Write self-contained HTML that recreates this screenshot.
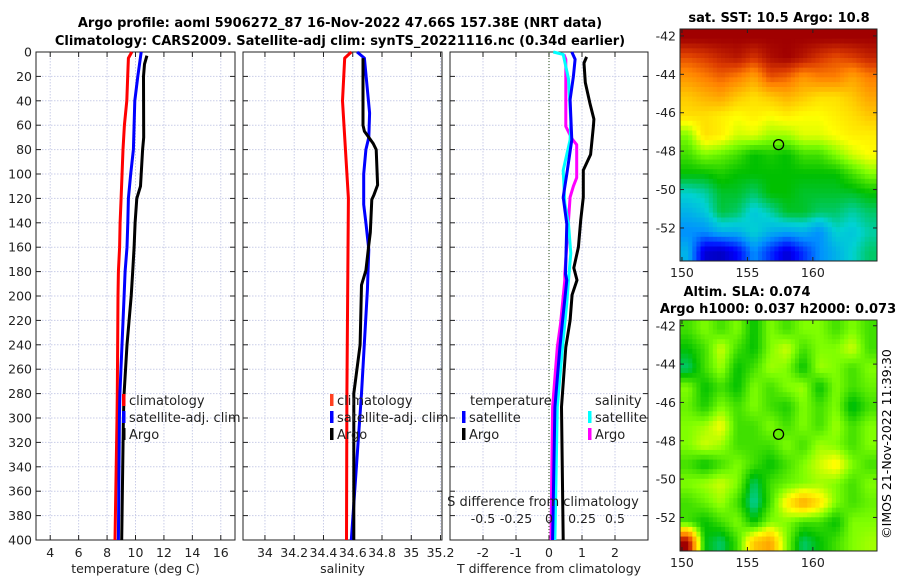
<!DOCTYPE html>
<html><head><meta charset="utf-8"><style>
html,body{margin:0;padding:0;background:#fff;}
svg{display:block;font-family:"DejaVu Sans","Liberation Sans",sans-serif;}
</style></head><body>
<svg id="fig" width="900" height="580" viewBox="0 0 900 580" xmlns="http://www.w3.org/2000/svg">
<text x="340" y="27" font-size="13" font-weight="bold" text-anchor="middle">Argo profile: aoml 5906272_87 16-Nov-2022 47.66S 157.38E (NRT data)</text>
<text x="340" y="45" font-size="13" font-weight="bold" text-anchor="middle">Climatology: CARS2009. Satellite-adj clim: synTS_20221116.nc (0.34d earlier)</text>
<g id="g1"></g>
<g id="g2"></g>
<g id="g3"></g>
<g id="m1"></g>
<g id="m2"></g>
<text x="779" y="22" font-size="13" font-weight="bold" text-anchor="middle">sat. SST: 10.5 Argo: 10.8</text>
<text x="747" y="296" font-size="13" font-weight="bold" text-anchor="middle">Altim. SLA: 0.074</text>
<text x="778" y="313" font-size="13" font-weight="bold" text-anchor="middle">Argo h1000: 0.037 h2000: 0.073</text>
<text transform="translate(891,444) rotate(-90)" font-size="12.5" text-anchor="middle">©IMOS 21-Nov-2022 11:39:30</text>
</svg>
<script>
// ---- data ----
const depthsT = [0,5,20,40,60,80,120,140,160,180,200,280,300,400];
const tempClim = [9.74,9.5,9.45,9.39,9.22,9.12,8.99,8.92,8.88,8.8,8.77,8.72,8.7,8.56];
const depthsTs = [0,20,40,60,80,100,120,140,160,180,200,280,300,400];
const tempSat = [10.4,10.16,9.95,9.9,9.85,9.66,9.5,9.46,9.4,9.27,9.2,8.9,8.87,8.8];
const depthsTa = [3,10,20,70,80,100,110,120,140,160,180,200,240,280,300,400];
const tempArgo = [10.8,10.63,10.56,10.58,10.5,10.4,10.35,10.09,9.97,9.9,9.8,9.7,9.4,9.2,9.15,9.03];

const depthsSc = [0,5,40,120,280,400];
const salClim = [34.59,34.545,34.53,34.57,34.56,34.557];
const depthsSs = [0,5,50,70,80,100,125,140,162,195,280,400];
const salSat = [34.63,34.68,34.715,34.71,34.69,34.675,34.675,34.69,34.71,34.7,34.66,34.59];
const depthsSa = [5,60,65,75,80,109,117,121,148,158,179,191,240,280,400];
const salArgo = [34.67,34.67,34.68,34.74,34.76,34.77,34.745,34.73,34.72,34.71,34.69,34.66,34.65,34.607,34.607];

const dDepthTA = [4,9,25,42,55,60,84,97,119,138,160,177,187,199,220,242,291,400];
const dTempArgo = [1.14,1.06,1.1,1.24,1.36,1.35,1.26,1.04,1.04,0.96,0.89,0.75,0.85,0.7,0.64,0.51,0.38,0.43];
const dDepthTS = [0,6,20,39,72,100,119,141,182,187,223,242,291,400];
const dTempSat = [0.69,0.79,0.74,0.64,0.69,0.54,0.43,0.54,0.5,0.54,0.4,0.33,0.18,0.11];
const dDepthSS = [0,2,22,57,72,97,124,141,165,187,206,242,291,400];
const dSalSat = [0.13,0.43,0.59,0.66,0.64,0.43,0.48,0.59,0.66,0.59,0.54,0.41,0.25,0.18]; // in T-axis units (S*4)
const dDepthSA = [2,6,61,71,76,103,110,119,182,187,223,242,291,400];
const dSalArgo = [0.45,0.51,0.51,0.69,0.84,0.84,0.74,0.64,0.48,0.48,0.35,0.25,0.11,0.06];

const sstGrid = [
[1,1,1,1,1,1,1,1,1,1,1,1],
[0.9,0.92,0.95,0.97,0.93,0.98,1,0.97,0.93,0.9,0.92,0.95],
[0.82,0.85,0.88,0.85,0.8,0.9,0.88,0.82,0.85,0.85,0.8,0.85],
[0.75,0.78,0.8,0.75,0.72,0.75,0.78,0.75,0.72,0.72,0.75,0.8],
[0.72,0.72,0.7,0.68,0.7,0.68,0.7,0.68,0.68,0.7,0.72,0.75],
[0.6,0.72,0.7,0.65,0.66,0.62,0.62,0.66,0.66,0.68,0.7,0.7],
[0.55,0.6,0.58,0.55,0.5,0.52,0.5,0.55,0.55,0.6,0.65,0.68],
[0.5,0.5,0.52,0.5,0.5,0.5,0.5,0.5,0.5,0.5,0.55,0.6],
[0.4,0.42,0.48,0.48,0.45,0.5,0.5,0.48,0.48,0.48,0.48,0.5],
[0.35,0.38,0.47,0.45,0.38,0.42,0.48,0.48,0.45,0.45,0.42,0.45],
[0.3,0.3,0.35,0.35,0.4,0.35,0.33,0.35,0.3,0.4,0.38,0.42],
[0.35,0.1,0.08,0.15,0.3,0.2,0.1,0.2,0.3,0.35,0.4,0.45]];
const slaGrid = [
[0.55,0.6,0.55,0.6,0.5,0.6,0.55,0.6,0.6,0.55,0.6,0.55],
[0.5,0.55,0.65,0.55,0.5,0.6,0.65,0.55,0.6,0.6,0.65,0.55],
[0.45,0.55,0.62,0.5,0.55,0.62,0.6,0.5,0.62,0.6,0.55,0.6],
[0.6,0.5,0.55,0.5,0.6,0.55,0.6,0.62,0.5,0.6,0.55,0.58],
[0.58,0.52,0.6,0.55,0.6,0.55,0.52,0.6,0.55,0.6,0.48,0.55],
[0.6,0.62,0.68,0.55,0.55,0.6,0.55,0.6,0.55,0.62,0.55,0.6],
[0.6,0.65,0.62,0.55,0.55,0.55,0.6,0.55,0.62,0.6,0.55,0.6],
[0.55,0.5,0.55,0.6,0.55,0.5,0.55,0.6,0.65,0.7,0.6,0.55],
[0.6,0.62,0.65,0.6,0.45,0.55,0.58,0.6,0.62,0.6,0.55,0.6],
[0.55,0.58,0.62,0.55,0.42,0.55,0.7,0.8,0.72,0.6,0.55,0.58],
[0.55,0.5,0.55,0.6,0.5,0.6,0.6,0.55,0.55,0.5,0.6,0.6],
[1.0,0.5,0.45,0.55,0.75,0.8,0.6,0.45,0.5,0.55,0.6,0.62]];
const argoLon = 157.38, argoLat = -47.66;
const depthTicks = [0,20,40,60,80,100,120,140,160,180,200,220,240,260,280,300,320,340,360,380,400];
const tTicks = [4,6,8,10,12,14,16];
const sTicks = [34,34.2,34.4,34.6,34.8,35,35.2];
const dTicks = [-2,-1,0,1,2];
const sdTicks = [-0.5,-0.25,0,0.25,0.5];
const latTicks = [-42,-44,-46,-48,-50,-52];
const lonTicks = [150,155,160];

// ---- helpers ----
const NS = "http://www.w3.org/2000/svg";
function mk(tag, attrs, parent){const e=document.createElementNS(NS,tag);for(const k in attrs)e.setAttribute(k,attrs[k]);parent.appendChild(e);return e;}
const Y0=52, Y1=540;
const yD = d => Y0 + d/400*(Y1-Y0);
function lin(a,b,p,q){return v=>p+(v-a)/(b-a)*(q-p);}

function panel(g, x0, x1, xs, ticks, fmt, xlabel, name){
  for(const t of ticks){const x=xs(t); if(x<x0||x>x1+0.5)continue;
    const l=mk('line',{x1:x,x2:x,y1:Y0,y2:Y1,stroke:'#c9cde8','stroke-width':1,'stroke-dasharray':'1.5,1.5'},g);
    }
  for(const d of depthTicks){const y=yD(d);
    const l=mk('line',{x1:x0,x2:x1,y1:y,y2:y,stroke:'#c9cde8','stroke-width':1,'stroke-dasharray':'1.5,1.5'},g);
    
    mk('line',{x1:x0,x2:x0+5,y1:y,y2:y,stroke:'#222'},g);mk('line',{x1:x1-5,x2:x1,y1:y,y2:y,stroke:'#222'},g);}
  const r=mk('rect',{x:x0,y:Y0,width:x1-x0,height:Y1-Y0,fill:'none',stroke:'#222','stroke-width':1},g);
  
  for(const t of ticks){const x=xs(t);
    if(x>=x0&&x<=x1){mk('line',{x1:x,x2:x,y1:Y1,y2:Y1-5,stroke:'#222'},g);mk('line',{x1:x,x2:x,y1:Y0,y2:Y0+5,stroke:'#222'},g);}
    const tx=mk('text',{x:x,y:557,'font-size':12.5,'text-anchor':'middle',fill:'#222'},g);tx.textContent=fmt(t);
    }
  if(xlabel){const tx=mk('text',{x:(x0+x1)/2,y:573,'font-size':12.5,'text-anchor':'middle',fill:'#222'},g);tx.textContent=xlabel;
    }
}
function series(g, depths, vals, xs, color, name, w){
  const pts=depths.map((d,i)=>xs(vals[i]).toFixed(1)+','+yD(d).toFixed(1)).join(' ');
  const p=mk('polyline',{points:pts,fill:'none',stroke:color,'stroke-width':w||3,'stroke-linejoin':'round'},g);
  
}
function legendItem(g,x,y,color,label,name){
  const r=mk('rect',{x:x,y:y-11,width:3.5,height:12,fill:color},g);
  
  const t=mk('text',{x:x+7,y:y,'font-size':13,fill:'#222'},g);t.textContent=label;
  
}

// panel 1
const g1=document.getElementById('g1');
const xT=lin(3,17,36,235);
panel(g1,36,235,xT,tTicks,v=>String(v),'temperature (deg C)','temperature');
for(const d of depthTicks){const t=mk('text',{x:32,y:yD(d)+4.5,'font-size':12.5,'text-anchor':'end',fill:'#222'},g1);t.textContent=d;
  }
series(g1,depthsT,tempClim,xT,'#ff0000','temperature-climatology-line');
series(g1,depthsTs,tempSat,xT,'#0000ff','temperature-satellite-line');
series(g1,depthsTa,tempArgo,xT,'#000000','temperature-argo-line');
legendItem(g1,122,405,'#ff0000','climatology','legend-climatology');
legendItem(g1,122,422,'#0000ff','satellite-adj. clim','legend-satellite-adj');
legendItem(g1,122,439,'#000000','Argo','legend-argo');

// panel 2
const g2=document.getElementById('g2');
const xS=lin(33.85,35.21,243,442);
panel(g2,243,442,xS,sTicks,v=>String(v),'salinity','salinity');
series(g2,depthsSc,salClim,xS,'#ff0000','salinity-climatology-line');
series(g2,depthsSs,salSat,xS,'#0000ff','salinity-satellite-line');
series(g2,depthsSa,salArgo,xS,'#000000','salinity-argo-line');
legendItem(g2,330,405,'#ff4020','climatology','legend-sal-climatology');
legendItem(g2,330,422,'#0000ff','satellite-adj. clim','legend-sal-satellite-adj');
legendItem(g2,330,439,'#000000','Argo','legend-sal-argo');

// panel 3
const g3=document.getElementById('g3');
const xDf=lin(-3,3,450,648);
panel(g3,450,648,xDf,dTicks,v=>String(v),'T difference from climatology','difference');
const zl=mk('line',{x1:xDf(0),x2:xDf(0),y1:Y0,y2:Y1,stroke:'#4a6a3a','stroke-width':1.2,'stroke-dasharray':'1,2'},g3);

series(g3,dDepthSA,dSalArgo,xDf,'#ff00ff','salinity-diff-argo-line');
series(g3,dDepthSS,dSalSat,xDf,'#00ffff','salinity-diff-satellite-line');
series(g3,dDepthTS,dTempSat,xDf,'#0000ff','temperature-diff-satellite-line');
series(g3,dDepthTA,dTempArgo,xDf,'#000000','temperature-diff-argo-line');
for(const s of sdTicks){const t=mk('text',{x:xDf(s*4),y:523,'font-size':12.5,'text-anchor':'middle',fill:'#222'},g3);t.textContent=String(s);
  }
{const t=mk('text',{x:543,y:506,'font-size':13,'text-anchor':'middle',fill:'#222'},g3);t.textContent='S difference from climatology';
  }
{const t=mk('text',{x:470,y:405,'font-size':13,fill:'#222'},g3);t.textContent='temperature';
  }
{const t=mk('text',{x:595,y:405,'font-size':13,fill:'#222'},g3);t.textContent='salinity';
  }
legendItem(g3,462,422,'#0000ff','satellite','legend-diff-temp-satellite');
legendItem(g3,462,439,'#000000','Argo','legend-diff-temp-argo');
legendItem(g3,588,422,'#00ffff','satellite','legend-diff-sal-satellite');
legendItem(g3,588,439,'#ff00ff','Argo','legend-diff-sal-argo');

// maps
const stops=[[0,[0,0,128]],[0.15,[0,0,255]],[0.3,[0,144,255]],[0.4,[0,210,210]],[0.5,[0,192,0]],[0.6,[128,255,0]],[0.68,[255,255,0]],[0.76,[255,192,0]],[0.85,[255,128,0]],[0.92,[220,60,0]],[1,[160,0,0]]];
function cmap(v){for(let i=1;i<stops.length;i++){if(v<=stops[i][0]){const a=stops[i-1],b=stops[i],f=(v-a[0])/(b[0]-a[0]);
  return 'rgb('+a[1].map((c,k)=>Math.round(c+f*(b[1][k]-c))).join(',')+')';}}return 'rgb(160,0,0)';}
function sample(grid,fr,fc){ // bilinear sample at fractional row/col (cell centres at integers)
  const R=grid.length,C=grid[0].length;
  fr=Math.max(0,Math.min(R-1,fr));fc=Math.max(0,Math.min(C-1,fc));
  const r0=Math.floor(fr),c0=Math.floor(fc),r1=Math.min(R-1,r0+1),c1=Math.min(C-1,c0+1),a=fr-r0,b=fc-c0;
  return grid[r0][c0]*(1-a)*(1-b)+grid[r0][c1]*(1-a)*b+grid[r1][c0]*a*(1-b)+grid[r1][c1]*a*b;
}
function map(g, grid, top, bottom, latTop, latBot, name){
  const lonL=149.85, lonR=164.9;
  const xs=lin(lonL,lonR,680,877), ys=lin(latTop,latBot,top,bottom);
  const rows=grid.length, cols=grid[0].length, S=4;
  for(let r=0;r<rows*S;r++)for(let c=0;c<cols*S;c++){
    const la0=latTop+(latBot-latTop)*r/(rows*S), la1=latTop+(latBot-latTop)*(r+1)/(rows*S);
    const lo0=lonL+(lonR-lonL)*c/(cols*S), lo1=lonL+(lonR-lonL)*(c+1)/(cols*S);
    const v=sample(grid,(r+0.5)/S-0.5,(c+0.5)/S-0.5);
    const cell=mk('rect',{x:xs(lo0),y:ys(la0),width:xs(lo1)-xs(lo0)+0.5,height:ys(la1)-ys(la0)+0.5,fill:cmap(v)},g);
    
  }
  const fr=mk('rect',{x:680,y:top,width:197,height:bottom-top,fill:'none',stroke:'#222'},g);
  
  for(const la of latTicks){const y=ys(la);mk('line',{x1:680,x2:684,y1:y,y2:y,stroke:'#222'},g);mk('line',{x1:873,x2:877,y1:y,y2:y,stroke:'#222'},g);
    const t=mk('text',{x:676,y:y+4.5,'font-size':12.5,'text-anchor':'end',fill:'#222'},g);t.textContent=la;
    }
  for(const lo of lonTicks){const x=xs(lo);mk('line',{x1:x,x2:x,y1:bottom,y2:bottom-4,stroke:'#222'},g);mk('line',{x1:x,x2:x,y1:top,y2:top+4,stroke:'#222'},g);
    const t=mk('text',{x:x,y:bottom+16,'font-size':12.5,'text-anchor':'middle',fill:'#222'},g);t.textContent=lo;
    }
  const c=mk('circle',{cx:xs(argoLon),cy:ys(argoLat),r:5,fill:'none',stroke:'#000','stroke-width':1.3},g);
  
}
map(document.getElementById('m1'),sstGrid,29,261,-41.64,-53.72,'sst-map');
map(document.getElementById('m2'),slaGrid,320,551,-41.7,-53.75,'sla-map');
</script>
</body></html>
